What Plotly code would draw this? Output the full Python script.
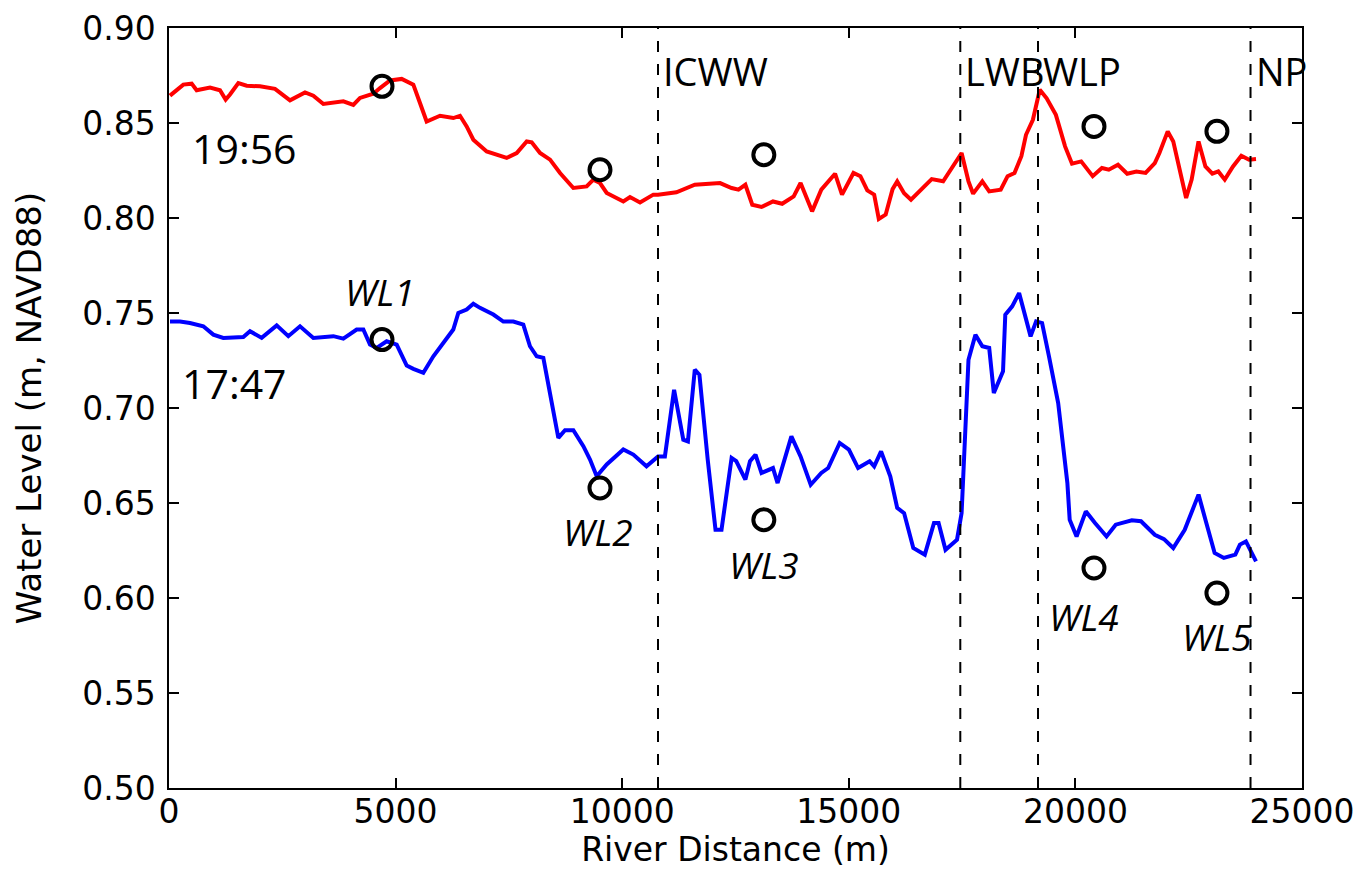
import plotly.graph_objects as go

# ---- data ----
red_x = [22, 316, 500, 610, 905, 1125, 1250, 1346, 1530, 1714, 2008, 2339, 2670, 3001, 3185, 3406,
         3847, 4067, 4215, 4509, 4656, 4877, 5134, 5391, 5538, 5685, 5980, 6273, 6421, 6568, 6715,
         7010, 7451, 7672, 7893, 8003, 8187, 8408, 8628, 8922, 9216, 9363, 9510, 9658, 10025, 10172,
         10393, 10687, 10790, 11196, 11602, 11906, 12160, 12414, 12566, 12718, 12870, 13074, 13327,
         13530, 13784, 13936, 14190, 14393, 14697, 14850, 15103, 15256, 15408, 15560, 15662, 15814,
         15966, 16068, 16220, 16372, 16626, 16829, 17082, 17285, 17489, 17641, 17743, 17946, 18098,
         18352, 18504, 18656, 18808, 18910, 19062, 19214, 19366, 19569, 19772, 19925, 20128, 20382,
         20585, 20737, 20940, 21143, 21346, 21549, 21752, 21854, 22037, 22159, 22311, 22443, 22565,
         22717, 22869, 23022, 23154, 23296, 23478, 23661, 23833, 23985]
red_y = [0.8644, 0.8702, 0.8707, 0.8672, 0.8687, 0.8672, 0.8623, 0.8650, 0.8710, 0.8696, 0.8693,
         0.8680, 0.8619, 0.8661, 0.8644, 0.8600, 0.8614, 0.8595, 0.8632, 0.8654, 0.8684, 0.8724,
         0.8732, 0.8702, 0.8605, 0.8508, 0.8538, 0.8526, 0.8538, 0.8482, 0.8412, 0.8350, 0.8316,
         0.8342, 0.8403, 0.8398, 0.8342, 0.8307, 0.8237, 0.8158, 0.8166, 0.8202, 0.8184, 0.8132,
         0.8087, 0.8110, 0.8082, 0.8123, 0.8123, 0.8135, 0.8175, 0.8180, 0.8184, 0.8158, 0.8149,
         0.8175, 0.8070, 0.8058, 0.8087, 0.8075, 0.8114, 0.8184, 0.8035, 0.8149, 0.8233, 0.8123,
         0.8237, 0.8220, 0.8145, 0.8123, 0.7995, 0.8018, 0.8152, 0.8192, 0.8130, 0.8096, 0.8158,
         0.8205, 0.8193, 0.8263, 0.8342, 0.8193, 0.8128, 0.8193, 0.8140, 0.8149, 0.8220, 0.8237,
         0.8325, 0.8438, 0.8517, 0.8675, 0.8630, 0.8543, 0.8377, 0.8286, 0.8298, 0.8220, 0.8263,
         0.8254, 0.8280, 0.8233, 0.8245, 0.8237, 0.8289, 0.8342, 0.8456, 0.8403, 0.8254, 0.8105,
         0.8202, 0.8403, 0.8271, 0.8233, 0.8245, 0.8202, 0.8271, 0.8328, 0.8307, 0.8310]

blue_x = [22, 243, 463, 757, 978, 1198, 1640, 1787, 2045, 2376, 2633, 2891, 3185, 3627, 3847, 4141,
          4288, 4435, 4583, 4803, 5024, 5245, 5391, 5612, 5833, 6053, 6273, 6384, 6568, 6715, 6862,
          7157, 7377, 7598, 7818, 7965, 8113, 8260, 8370, 8480, 8591, 8738, 8922, 9143, 9290, 9437,
          9658, 10025, 10245, 10536, 10790, 10942, 11145, 11348, 11450, 11602, 11704, 11887, 12059,
          12191, 12414, 12516, 12718, 12820, 12941, 13074, 13327, 13429, 13733, 13936, 14159, 14393,
          14545, 14799, 15002, 15205, 15459, 15560, 15712, 15915, 16068, 16220, 16423, 16677, 16880,
          16981, 17134, 17388, 17489, 17641, 17794, 17946, 18098, 18200, 18403, 18453, 18605, 18758,
          18910, 19011, 19133, 19265, 19417, 19620, 19823, 19874, 20026, 20230, 20433, 20687, 20890,
          21245, 21448, 21752, 21955, 22159, 22412, 22717, 22889, 23072, 23275, 23529, 23630, 23763,
          23985]
blue_y = [0.7455, 0.7455, 0.7447, 0.7430, 0.7386, 0.7369, 0.7374, 0.7404, 0.7369, 0.7435, 0.7378,
          0.7430, 0.7369, 0.7378, 0.7365, 0.7413, 0.7413, 0.7334, 0.7316, 0.7351, 0.7334, 0.7223,
          0.7206, 0.7185, 0.7272, 0.7343, 0.7413, 0.7500, 0.7518, 0.7549, 0.7527, 0.7492, 0.7455,
          0.7455, 0.7439, 0.7325, 0.7272, 0.7264, 0.7114, 0.6974, 0.6843, 0.6883, 0.6883, 0.6799,
          0.6729, 0.6641, 0.6703, 0.6782, 0.6755, 0.6693, 0.6745, 0.6745, 0.7096, 0.6833, 0.6824,
          0.7202, 0.7175, 0.6728, 0.6359, 0.6359, 0.6737, 0.6720, 0.6623, 0.6720, 0.6754, 0.6658,
          0.6684, 0.6605, 0.6851, 0.6745, 0.6596, 0.6658, 0.6684, 0.6816, 0.6781, 0.6684, 0.6720,
          0.6693, 0.6772, 0.6640, 0.6474, 0.6447, 0.6263, 0.6228, 0.6395, 0.6395, 0.6254, 0.6307,
          0.6447, 0.7254, 0.7386, 0.7325, 0.7316, 0.7079, 0.7193, 0.7491, 0.7535, 0.7605, 0.7465,
          0.7377, 0.7456, 0.7447, 0.7272, 0.7026, 0.6605, 0.6412, 0.6324, 0.6456, 0.6395, 0.6324,
          0.6386, 0.6409, 0.6404, 0.6333, 0.6310, 0.6263, 0.6359, 0.6544, 0.6395, 0.6237, 0.6211,
          0.6228, 0.6281, 0.6298, 0.6193]

obs_x = [4700, 9510, 13125, 20410, 23123]
obs_red_y = [0.8693, 0.8254, 0.8333, 0.8482, 0.8456]
obs_blue_y = [0.7360, 0.6579, 0.6412, 0.6158, 0.6026]
obs_labels = ["WL1", "WL2", "WL3", "WL4", "WL5"]
obs_label_x = [4656, 9466, 13125, 20179, 23123]
obs_label_y = [0.7614, 0.6350, 0.6175, 0.5903, 0.5798]

site_x = [10790, 17460, 19175, 23864]
site_labels = ["ICWW", "LWB", "WLP", "NP"]
site_label_y = 0.8775

time_labels = ["19:56", "17:47"]
time_label_x = [1655, 1456]
time_label_y = [0.837, 0.7134]

x_ticks = [0, 5000, 10000, 15000, 20000, 25000]
y_ticks = [0.50, 0.55, 0.60, 0.65, 0.70, 0.75, 0.80, 0.85, 0.90]

# ---- figure ----
fig = go.Figure()

fig.add_trace(go.Scatter(x=red_x, y=red_y, mode="lines",
                         line=dict(color="#ff0000", width=4), showlegend=False))
fig.add_trace(go.Scatter(x=blue_x, y=blue_y, mode="lines",
                         line=dict(color="#0000ff", width=4), showlegend=False))
marker_style = dict(symbol="circle-open", size=21, color="black", line=dict(width=4, color="black"))
fig.add_trace(go.Scatter(x=obs_x, y=obs_red_y, mode="markers", marker=marker_style, showlegend=False))
fig.add_trace(go.Scatter(x=obs_x, y=obs_blue_y, mode="markers", marker=marker_style, showlegend=False))

for sx in site_x:
    fig.add_shape(type="line", x0=sx, x1=sx, y0=0, y1=1, xref="x", yref="paper",
                  line=dict(color="black", width=2, dash="11px,12px"))

for sx, lab in zip(site_x, site_labels):
    fig.add_annotation(x=sx, y=site_label_y, text=lab, showarrow=False, xanchor="left",
                       yanchor="middle", xshift=3,
                       font=dict(family="Open Sans", size=38, color="black"))

for tx, ty, lab in zip(time_label_x, time_label_y, time_labels):
    fig.add_annotation(x=tx, y=ty, text=lab, showarrow=False, xanchor="center", yanchor="middle",
                       font=dict(family="Open Sans", size=41, color="black"))

for lx, ly, lab in zip(obs_label_x, obs_label_y, obs_labels):
    fig.add_annotation(x=lx, y=ly, text="<i>" + lab + "</i>", showarrow=False, xanchor="center",
                       yanchor="middle", font=dict(family="Open Sans", size=37, color="black"))

axis_common = dict(showline=True, linecolor="black", linewidth=1.5, mirror="ticks",
                   ticks="inside", ticklen=10, tickwidth=1.5, tickcolor="black",
                   showgrid=False, zeroline=False,
                   tickfont=dict(family="DejaVu Sans", size=33, color="black"))

fig.update_xaxes(range=[0, 25000], tickvals=x_ticks, ticktext=[str(v) for v in x_ticks],
                 ticklabelstandoff=-6,
                 title=dict(text="River Distance (m)", standoff=2,
                            font=dict(family="DejaVu Sans", size=33, color="black")),
                 **axis_common)
fig.update_yaxes(range=[0.5, 0.9], tickvals=y_ticks, ticktext=["%.2f" % v for v in y_ticks],
                 ticklabelstandoff=5,
                 title=dict(text="Water Level (m, NAVD88)", standoff=30,
                            font=dict(family="DejaVu Sans", size=34, color="black")),
                 **axis_common)

# page has an 8px body margin, so the figure is sized/offset to compensate
fig.update_layout(width=1360, height=861, plot_bgcolor="white", paper_bgcolor="white",
                  margin=dict(l=161, r=66, t=20, b=81, autoexpand=False))

fig.write_html("out.html")
